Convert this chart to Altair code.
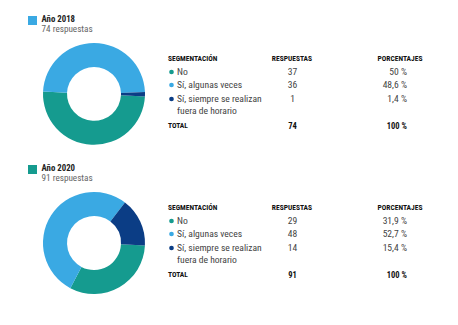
import altair as alt
import pandas as pd

# ---- data ----
categorias = ["No", "Sí, algunas veces", "Sí, siempre se realizan\nfuera de horario"]
colores = ["#159b8f", "#3aa9e3", "#0b3d85"]
anios = ["Año 2018", "Año 2020"]
color_anio = ["#3aa9e3", "#159b8f"]
respuestas_2018 = [37, 36, 1]
porcentajes_2018 = [50, 48.6, 1.4]
respuestas_2020 = [29, 48, 14]
porcentajes_2020 = [31.9, 52.7, 15.4]
totales = [74, 91]
encabezados = ["SEGMENTACIÓN", "RESPUESTAS", "PORCENTAJES"]

FONT = "Liberation Sans Narrow, Roboto Condensed, Roboto"


def fmt_pct(v):
    s = ("%.1f" % v).rstrip("0").rstrip(".")
    return s.replace(".", ",") + " %"


color_scale = alt.Scale(domain=categorias, range=colores)

layers = []
panels = [
    (respuestas_2018, porcentajes_2018, totales[0], anios[0], color_anio[0], 0),
    (respuestas_2020, porcentajes_2020, totales[1], anios[1], color_anio[1], 149),
]
row_y = [72, 85, 99]
for resp, pct, tot, anio, c_anio, off in panels:
    df = pd.DataFrame({
        "cat": categorias,
        "orden": [0, 1, 2],
        "n": resp,
        "pct": pct,
        "pct_txt": [fmt_pct(p) for p in pct],
    })
    donut = alt.Chart(df).mark_arc(innerRadius=27, outerRadius=51).encode(
        theta=alt.Theta("pct:Q", stack=True,
                        scale=alt.Scale(range=[1.62, 1.62 + 6.283185])),
        color=alt.Color("cat:N", scale=color_scale, legend=None),
        order=alt.Order("orden:Q"),
        x=alt.value(94),
        y=alt.value(94 + off),
    )
    layers.append(donut)

    head = pd.DataFrame({"anio": [anio], "sub": [f"{tot} respuestas"]})
    layers.append(alt.Chart(head).mark_square(size=81, opacity=1).encode(
        x=alt.value(32.5), y=alt.value(20.5 + off), color=alt.value(c_anio)))
    layers.append(alt.Chart(head).mark_text(
        align="left", baseline="middle", font=FONT, fontSize=8.8, fontWeight="bold", color="#222"
    ).encode(x=alt.value(41.5), y=alt.value(18.8 + off), text="anio:N"))
    layers.append(alt.Chart(head).mark_text(
        align="left", baseline="middle", font=FONT, fontSize=9.2, color="#666"
    ).encode(x=alt.value(41.5), y=alt.value(28.6 + off), text="sub:N"))

    hdr = pd.DataFrame({"h": encabezados})
    for i, (xx, al) in enumerate([(168, "left"), (292, "center"), (400, "center")]):
        layers.append(alt.Chart(hdr.iloc[[i]]).mark_text(
            align=al, baseline="middle", font=FONT, fontSize=7.5, fontWeight="bold", color="#111"
        ).encode(x=alt.value(xx), y=alt.value(59 + off), text="h:N"))

    for r in range(3):
        d = df.iloc[[r]]
        layers.append(alt.Chart(d).mark_circle(size=22, opacity=1).encode(
            x=alt.value(171.5), y=alt.value(row_y[r] + off),
            color=alt.Color("cat:N", scale=color_scale, legend=None)))
        layers.append(alt.Chart(d).mark_text(
            align="left", baseline="middle", font=FONT, fontSize=9.6, color="#444",
            lineBreak="\n", lineHeight=12.3
        ).encode(x=alt.value(177), y=alt.value(row_y[r] + off), text="cat:N"))
        layers.append(alt.Chart(d).mark_text(
            align="center", baseline="middle", font=FONT, fontSize=9.6, color="#444"
        ).encode(x=alt.value(292.5), y=alt.value(row_y[r] + off), text="n:Q"))
        layers.append(alt.Chart(d).mark_text(
            align="right", baseline="middle", font=FONT, fontSize=9.6, color="#444"
        ).encode(x=alt.value(407), y=alt.value(row_y[r] + off), text="pct_txt:N"))

    tdf = pd.DataFrame({"t": ["TOTAL"], "n": [tot], "p": ["100 %"]})
    layers.append(alt.Chart(tdf).mark_text(
        align="left", baseline="middle", font=FONT, fontSize=7.5, fontWeight="bold", color="#111"
    ).encode(x=alt.value(168), y=alt.value(126 + off), text="t:N"))
    layers.append(alt.Chart(tdf).mark_text(
        align="center", baseline="middle", font=FONT, fontSize=8.5, fontWeight="bold", color="#111"
    ).encode(x=alt.value(292.5), y=alt.value(126 + off), text="n:Q"))
    layers.append(alt.Chart(tdf).mark_text(
        align="right", baseline="middle", font=FONT, fontSize=8.5, fontWeight="bold", color="#111"
    ).encode(x=alt.value(407), y=alt.value(126 + off), text="p:N"))

chart = alt.layer(*layers).resolve_scale(theta="independent").properties(
    width=458, height=325,
    autosize=alt.AutoSizeParams(type="none"),
    padding=0,
    background="white",
).configure_view(stroke=None)

chart.save("out.html", embed_options={"renderer": "svg", "actions": False})
